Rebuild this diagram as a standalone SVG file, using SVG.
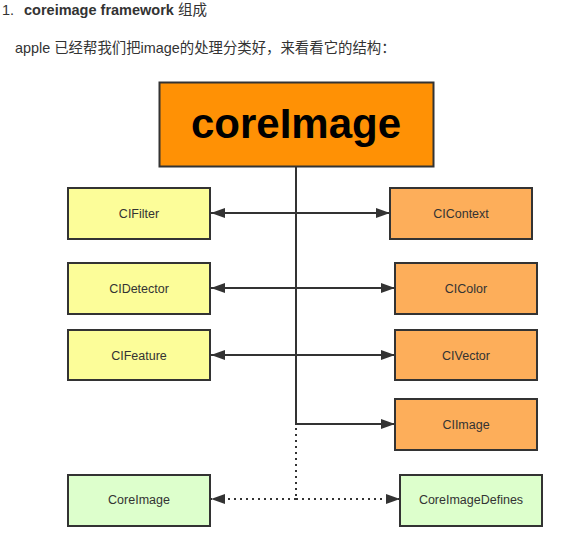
<svg xmlns="http://www.w3.org/2000/svg" width="579" height="541" viewBox="0 0 579 541">
<defs>
<style>
.t{font-family:"Liberation Sans",Arial,"Noto Sans CJK SC",sans-serif;fill:#333;}
.lbl{font-family:"Liberation Sans",Arial,sans-serif;font-size:12.5px;fill:#333;text-anchor:middle;}
.box{stroke:#333;stroke-width:2;}
.y{fill:#fcfd99;}
.o{fill:#fdae5a;}
.g{fill:#ddffcc;}
.ln{stroke:#333;stroke-width:2;fill:none;}
.dot{stroke:#333;stroke-width:2;fill:none;stroke-dasharray:2 4;}
</style>
<marker id="ah" viewBox="0 0 14 10" refX="14" refY="5" markerWidth="14" markerHeight="10" markerUnits="userSpaceOnUse" orient="auto">
<path d="M0,0 L14,5 L0,10 Z" fill="#333"/>
</marker>
</defs>
<rect width="579" height="541" fill="#fff"/>
<text class="t" x="2" y="15" font-size="14.5">1.</text>
<text class="t" x="24" y="15" font-size="14.5" font-weight="bold">coreimage framework <tspan font-weight="normal">组成</tspan></text>
<text class="t" x="15" y="53" font-size="14.4">apple 已经帮我们把image的处理分类好，来看看它的结构：</text>

<g id="connectors">
<line class="ln" x1="296" y1="167" x2="296" y2="424"/>
<line class="dot" x1="296" y1="428" x2="296" y2="499"/>
<line class="ln" x1="296" y1="213" x2="211" y2="213" marker-end="url(#ah)"/>
<line class="ln" x1="296" y1="213" x2="390" y2="213" marker-end="url(#ah)"/>
<line class="ln" x1="296" y1="288" x2="211" y2="288" marker-end="url(#ah)"/>
<line class="ln" x1="296" y1="288" x2="395" y2="288" marker-end="url(#ah)"/>
<line class="ln" x1="296" y1="355" x2="211" y2="355" marker-end="url(#ah)"/>
<line class="ln" x1="296" y1="355" x2="395" y2="355" marker-end="url(#ah)"/>
<line class="ln" x1="295" y1="424" x2="395" y2="424" marker-end="url(#ah)"/>
<line class="dot" x1="296" y1="499" x2="211" y2="499" marker-end="url(#ah)"/>
<line class="dot" x1="296" y1="499" x2="400" y2="499" marker-end="url(#ah)"/>
</g>

<g id="coreImage">
<rect x="159.5" y="82.5" width="274" height="84" fill="#ff9105" class="box"/>
<text x="296" y="138" font-family="'Liberation Sans',Arial,sans-serif" font-size="42" font-weight="bold" fill="#000" text-anchor="middle">coreImage</text>
</g>
<g id="CIFilter"><rect class="box y" x="68" y="188" width="142" height="51"/><text class="lbl" x="139" y="217.5">CIFilter</text></g>
<g id="CIDetector"><rect class="box y" x="68" y="263" width="142" height="51"/><text class="lbl" x="139" y="292.5">CIDetector</text></g>
<g id="CIFeature"><rect class="box y" x="68" y="330" width="142" height="50"/><text class="lbl" x="139" y="359.5">CIFeature</text></g>
<g id="CIContext"><rect class="box o" x="390" y="188" width="142" height="51"/><text class="lbl" x="461" y="217.5">CIContext</text></g>
<g id="CIColor"><rect class="box o" x="395" y="263" width="142" height="51"/><text class="lbl" x="466" y="292.5">CIColor</text></g>
<g id="CIVector"><rect class="box o" x="395" y="330" width="142" height="50"/><text class="lbl" x="466" y="359.5">CIVector</text></g>
<g id="CIImage"><rect class="box o" x="395" y="399" width="142" height="51"/><text class="lbl" x="466" y="428.5">CIImage</text></g>
<g id="CoreImage"><rect class="box g" x="68" y="475" width="142" height="51"/><text class="lbl" x="139" y="504">CoreImage</text></g>
<g id="CoreImageDefines"><rect class="box g" x="400" y="475" width="142" height="51"/><text class="lbl" x="471" y="504">CoreImageDefines</text></g>
</svg>
